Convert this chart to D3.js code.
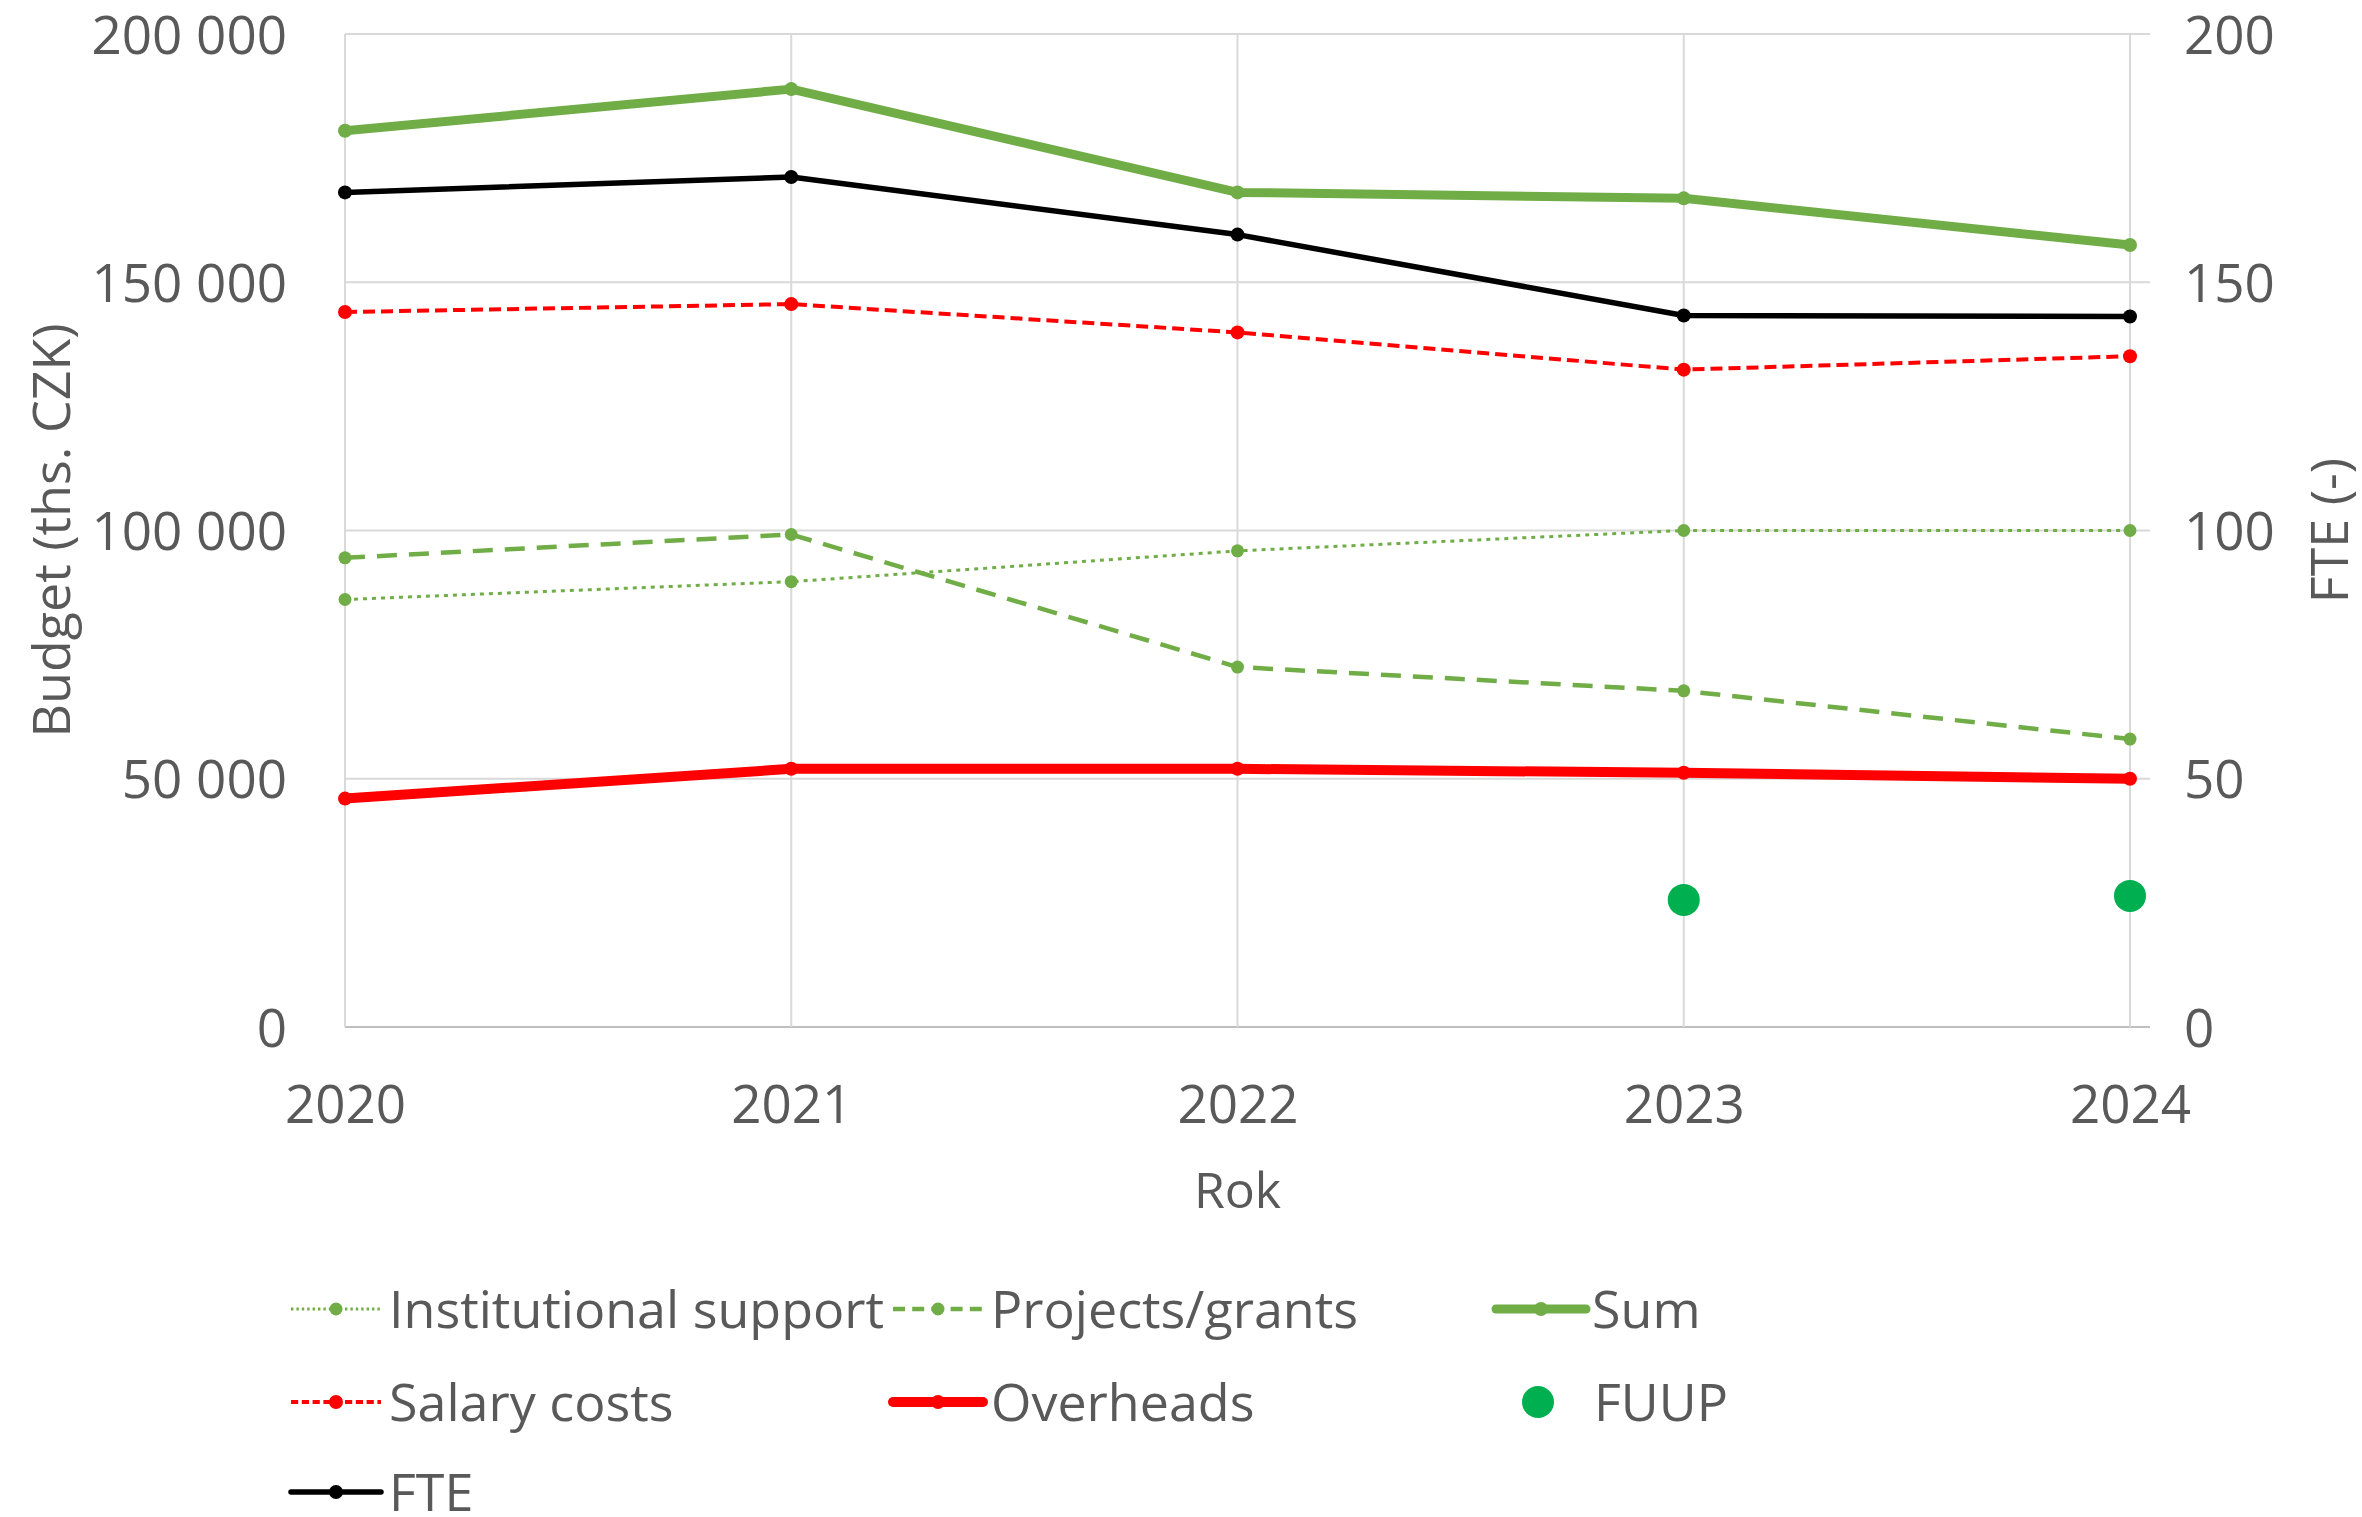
<!DOCTYPE html>
<html>
<head>
<meta charset="utf-8">
<script src="https://cdn.jsdelivr.net/npm/d3@7"></script>
<style>
  body { margin: 0; background: #fff; }
  svg text { font-family: "Open Sans", sans-serif; fill: #595959; }
</style>
</head>
<body>
<svg id="chart"></svg>
<script>
const years = [2020, 2021, 2022, 2023, 2024];
const institutional = [86100, 89700, 95900, 100000, 100000];
const projects = [94500, 99200, 72500, 67700, 58000];
const sum = [180500, 188900, 168100, 166900, 157500];
const salary = [144000, 145600, 139900, 132400, 135100];
const overheads = [46000, 52000, 52000, 51200, 50000];
const fte = [168.1, 171.2, 159.6, 143.3, 143.1];
const fuup = [null, null, null, 25.6, 26.4];

const budgetTicks = [0, 50000, 100000, 150000, 200000];
const fteTicks = [0, 50, 100, 150, 200];

const width = 2362;
const height = 1517;
const margin = {top: 34, right: 232, bottom: 490, left: 345};

const green = "#70ad47";
const red = "#ff0000";

const series = [
  {name: "Institutional support", values: institutional, axis: "left", color: green, width: 3, dash: "4,5", r: 6.5},
  {name: "Projects/grants", values: projects, axis: "left", color: green, width: 4.5, dash: "20,12", r: 6.5},
  {name: "Sum", values: sum, axis: "left", color: green, width: 9, dash: null, r: 7},
  {name: "Salary costs", values: salary, axis: "left", color: red, width: 4, dash: "12,6", r: 7},
  {name: "Overheads", values: overheads, axis: "left", color: red, width: 10, dash: null, r: 7},
  {name: "FUUP", values: fuup, axis: "right", color: "#00b050", width: 0, dash: null, r: 16, dotsOnly: true},
  {name: "FTE", values: fte, axis: "right", color: "#000", width: 5.5, dash: null, r: 7}
];

const svg = d3.select("#chart").attr("width", width).attr("height", height);

const x = d3.scalePoint()
  .domain(years)
  .range([margin.left, width - margin.right]);

const yLeft = d3.scaleLinear()
  .domain([0, 200000])
  .range([height - margin.bottom, margin.top]);

const yRight = d3.scaleLinear()
  .domain([0, 200])
  .range([height - margin.bottom, margin.top]);

const fmt = v => d3.format(",")(v).replace(/,/g, " ");

// gridlines
const grid = svg.append("g").attr("class", "grid");
grid.selectAll("line.h")
  .data(budgetTicks)
  .enter()
  .append("line")
  .attr("x1", margin.left)
  .attr("x2", width - margin.right + 20)
  .attr("y1", d => yLeft(d))
  .attr("y2", d => yLeft(d))
  .attr("stroke", d => d === 0 ? "#bfbfbf" : "#d9d9d9")
  .attr("stroke-width", 2);
grid.selectAll("line.v")
  .data(years)
  .enter()
  .append("line")
  .attr("x1", d => x(d))
  .attr("x2", d => x(d))
  .attr("y1", margin.top)
  .attr("y2", height - margin.bottom)
  .attr("stroke", "#d9d9d9")
  .attr("stroke-width", 2);

// axes, only the labels are kept
const leftAxis = svg.append("g")
  .attr("transform", "translate(" + margin.left + ",0)")
  .call(d3.axisLeft(yLeft).tickValues(budgetTicks).tickFormat(fmt).tickSize(0).tickPadding(58));
const rightAxis = svg.append("g")
  .attr("transform", "translate(" + (width - margin.right) + ",0)")
  .call(d3.axisRight(yRight).tickValues(fteTicks).tickSize(0).tickPadding(54));
const bottomAxis = svg.append("g")
  .attr("transform", "translate(0," + (height - margin.bottom) + ")")
  .call(d3.axisBottom(x).tickSize(0).tickPadding(58));

[leftAxis, rightAxis, bottomAxis].forEach(a => {
  a.select(".domain").remove();
  a.selectAll("text")
    .attr("font-family", null)
    .style("font-size", "53px")
    .attr("fill", "#595959");
});
leftAxis.selectAll("text").attr("dy", "0.36em");
rightAxis.selectAll("text").attr("dy", "0.36em");
bottomAxis.selectAll("text").attr("dy", "0.71em");

// axis titles
svg.append("text")
  .attr("transform", "translate(70," + yLeft(100000) + ") rotate(-90)")
  .attr("text-anchor", "middle")
  .style("font-size", "52px")
  .text("Budget (ths. CZK)");
svg.append("text")
  .attr("transform", "translate(2348," + yRight(100) + ") rotate(-90)")
  .attr("text-anchor", "middle")
  .style("font-size", "52px")
  .text("FTE (-)");
svg.append("text")
  .attr("x", (x(2020) + x(2024)) / 2)
  .attr("y", 1208)
  .attr("text-anchor", "middle")
  .style("font-size", "50px")
  .text("Rok");

// lines and markers
const plot = svg.append("g").attr("class", "series");
series.forEach(s => {
  const y = s.axis === "left" ? yLeft : yRight;
  const pts = years.map((yr, i) => ({year: yr, value: s.values[i]})).filter(p => p.value !== null);
  if (!s.dotsOnly) {
    plot.append("path")
      .datum(pts)
      .attr("fill", "none")
      .attr("stroke", s.color)
      .attr("stroke-width", s.width)
      .attr("stroke-dasharray", s.dash)
      .attr("stroke-linejoin", "round")
      .attr("d", d3.line().x(p => x(p.year)).y(p => y(p.value)));
  }
  plot.append("g")
    .selectAll("circle")
    .data(pts)
    .enter()
    .append("circle")
    .attr("cx", p => x(p.year))
    .attr("cy", p => y(p.value))
    .attr("r", s.r)
    .attr("fill", s.color);
});

// legend
const colSymbol = [291, 893, 1496];
const colText = [389, 991, 1592];
const rowY = [1309, 1402, 1492];
const legend = svg.append("g").attr("class", "legend");
series.forEach((s, i) => {
  const col = i % 3;
  const row = Math.floor(i / 3);
  const g = legend.append("g").attr("transform", "translate(0," + rowY[row] + ")");
  if (s.dotsOnly) {
    g.append("circle")
      .attr("cx", 1538)
      .attr("cy", 0)
      .attr("r", 16)
      .attr("fill", s.color);
  } else {
    g.append("line")
      .attr("x1", colSymbol[col])
      .attr("x2", colSymbol[col] + 90)
      .attr("stroke", s.color)
      .attr("stroke-width", s.width)
      .attr("stroke-dasharray", s.dash ? s.dash.split(",").map(v => v * 0.6).join(",") : null)
      .attr("stroke-linecap", s.dash ? "butt" : "round");
    g.append("circle")
      .attr("cx", colSymbol[col] + 45)
      .attr("r", s.r)
      .attr("fill", s.color);
  }
  g.append("text")
    .attr("x", s.dotsOnly ? 1594 : colText[col])
    .attr("dy", "0.36em")
    .style("font-size", "52px")
    .text(s.name);
});
</script>
</body>
</html>
